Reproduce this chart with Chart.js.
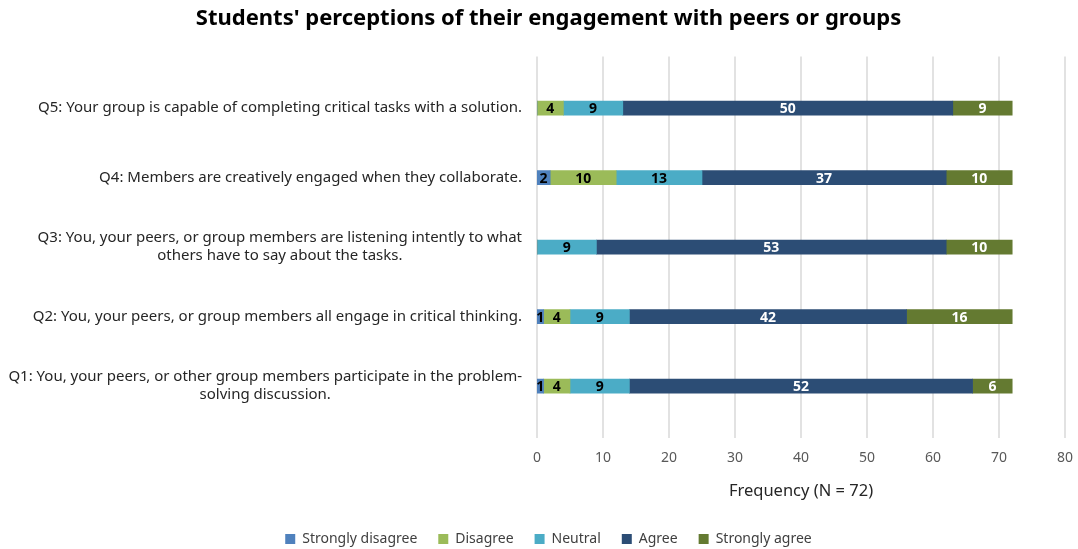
<!DOCTYPE html>
<html lang="en">
<head>
  <meta charset="UTF-8" />
  <title>Students' perceptions of their engagement with peers or groups</title>
  <script src="https://cdn.jsdelivr.net/npm/chart.js"></script>
  <style>
    body { margin: 0; background: #fff; }
    #wrap { width: 1078px; height: 549px; }
  </style>
</head>
<body>
  <div id="wrap"><canvas id="chart"></canvas></div>

  <script>
    // top to bottom, as in the picture
    const questions = [
      ['Q5: Your group is capable of completing critical tasks with a solution.'],
      ['Q4: Members are creatively engaged when they collaborate.'],
      ['Q3: You, your peers, or group members are listening intently to what', 'others have to say about the tasks.'],
      ['Q2: You, your peers, or group members all engage in critical thinking.'],
      ['Q1: You, your peers, or other group members participate in the problem-', 'solving discussion.']
    ];
    const stronglyDisagree = [0, 2, 0, 1, 1];
    const disagree         = [4, 10, 0, 4, 4];
    const neutral          = [9, 13, 9, 9, 9];
    const agree            = [50, 37, 53, 42, 52];
    const stronglyAgree    = [9, 10, 10, 16, 6];
    const xTicks = [0, 10, 20, 30, 40, 50, 60, 70, 80];

    const FONT = "'Noto Sans', sans-serif";

    // value labels in the middle of each segment
    const segLabels = {
      id: 'segLabels',
      afterDatasetsDraw(chart) {
        const ctx = chart.ctx;
        ctx.save();
        ctx.font = 'bold 14px ' + FONT;
        ctx.textAlign = 'center';
        ctx.textBaseline = 'middle';
        chart.data.datasets.forEach((ds, i) => {
          const meta = chart.getDatasetMeta(i);
          meta.data.forEach((bar, j) => {
            const v = ds.data[j];
            if (!v) return;
            ctx.fillStyle = ds.labelColor;
            ctx.fillText(String(v), (bar.x + bar.base) / 2, bar.y + 1);
          });
        });
        ctx.restore();
      }
    };

    // vertical gridlines run a bit past the category band
    const gridLines = {
      id: 'gridLines',
      beforeDatasetsDraw(chart) {
        const { ctx, chartArea, scales } = chart;
        ctx.save();
        ctx.strokeStyle = '#d9d9d9';
        ctx.lineWidth = 1.5;
        xTicks.forEach(t => {
          const x = Math.round(scales.x.getPixelForValue(t));
          ctx.beginPath();
          ctx.moveTo(x, chartArea.top - 17);
          ctx.lineTo(x, chartArea.bottom + 17);
          ctx.stroke();
        });
        ctx.restore();
      }
    };

    // category labels: block right-aligned, lines centred within it
    const catLabels = {
      id: 'catLabels',
      afterDraw(chart) {
        const { ctx, chartArea, scales } = chart;
        ctx.save();
        ctx.font = '15px ' + FONT;
        ctx.fillStyle = '#262626';
        ctx.textAlign = 'center';
        ctx.textBaseline = 'middle';
        const lh = 18;
        questions.forEach((lines, i) => {
          const y = scales.y.getPixelForValue(i);
          const w = Math.max(...lines.map(l => ctx.measureText(l).width));
          const cx = chartArea.left - 15 - w / 2;
          lines.forEach((l, k) => {
            ctx.fillText(l, cx, y + (k - (lines.length - 1) / 2) * lh);
          });
        });
        ctx.restore();
      }
    };

    const mk = (label, data, color, labelColor) => ({
      label, data, backgroundColor: color, labelColor,
      barThickness: 14, borderWidth: 0
    });

    new Chart(document.getElementById('chart'), {
      type: 'bar',
      data: {
        labels: questions,
        datasets: [
          mk('Strongly disagree', stronglyDisagree, '#4f81bd', '#000'),
          mk('Disagree', disagree, '#9bbb59', '#000'),
          mk('Neutral', neutral, '#4bacc6', '#000'),
          mk('Agree', agree, '#2c4d75', '#fff'),
          mk('Strongly agree', stronglyAgree, '#647a31', '#fff')
        ]
      },
      options: {
        indexAxis: 'y',
        responsive: true,
        maintainAspectRatio: false,
        animation: false,
        layout: { padding: { left: 0, right: -19, top: 0, bottom: -7 } },
        plugins: {
          title: {
            display: true,
            text: "Students' perceptions of their engagement with peers or groups",
            color: '#000',
            font: { family: FONT, size: 22, weight: 'bold' },
            padding: { top: 6, bottom: 41 }
          },
          legend: {
            position: 'bottom',
            labels: {
              color: '#404040',
              font: { family: FONT, size: 14 },
              boxWidth: 10,
              boxHeight: 10,
              padding: 21
            }
          },
          tooltip: { enabled: false }
        },
        scales: {
          x: {
            stacked: true,
            min: 0,
            max: 80,
            ticks: {
              stepSize: 10,
              color: '#595959',
              font: { family: FONT, size: 14 },
              padding: 21
            },
            grid: { display: false },
            border: { display: false },
            title: {
              display: true,
              text: 'Frequency (N = 72)',
              color: '#262626',
              font: { family: FONT, size: 16.5 },
              padding: { top: -6.5, bottom: 10 }
            },
            afterFit(scale) { scale.paddingLeft = 0; scale.paddingRight = 13; }
          },
          y: {
            stacked: true,
            ticks: { display: false },
            grid: { display: false },
            border: { display: false },
            afterFit(scale) { scale.width = 537; }
          }
        }
      },
      plugins: [gridLines, segLabels, catLabels]
    });
  </script>
</body>
</html>
